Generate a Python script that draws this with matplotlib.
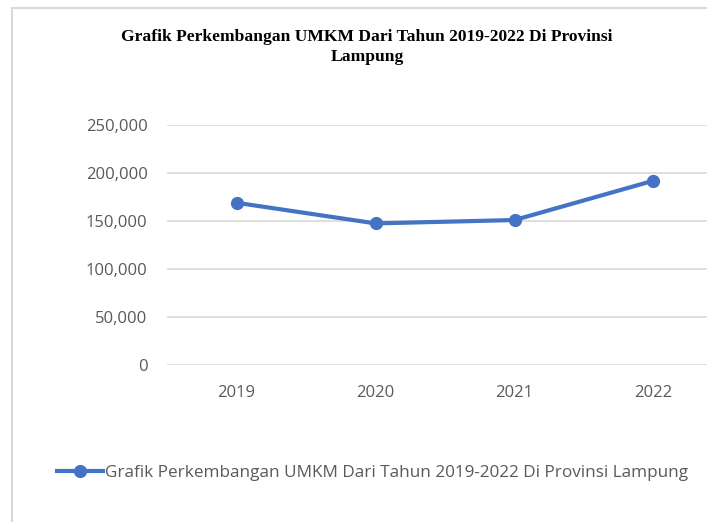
import matplotlib
matplotlib.use("Agg")
import matplotlib.pyplot as plt
from matplotlib.patches import Rectangle
from matplotlib.ticker import FuncFormatter

# data
tahun = ["2019", "2020", "2021", "2022"]
jumlah_umkm = [169000, 147500, 151000, 192000]
y_ticks = [0, 50000, 100000, 150000, 200000, 250000]

judul = "Grafik Perkembangan UMKM Dari Tahun 2019-2022 Di Provinsi\nLampung"
label_seri = "Grafik Perkembangan UMKM Dari Tahun 2019-2022 Di Provinsi Lampung"

biru = "#4472C4"
abu = "#595959"
garis = "#D9D9D9"

fig = plt.figure(figsize=(7.07, 5.22), dpi=100)
W, H = 707, 522

# bingkai chart
fig.patches.append(Rectangle((12 / W, -0.1), 1.0, 1 - 8 / H + 0.1,
                             transform=fig.transFigure, fill=False,
                             edgecolor=garis, linewidth=1.5))

ax = fig.add_axes([167 / W, (H - 365) / H, 556 / W, 240 / H])
x = list(range(len(tahun)))
ln, = ax.plot(x, jumlah_umkm, color=biru, linewidth=3, marker="o",
              markersize=8.5, clip_on=False, zorder=3)

ax.set_xlim(-0.5, 3.5)
ax.set_ylim(0, 250000)
ax.set_yticks(y_ticks)
ax.yaxis.set_major_formatter(FuncFormatter(lambda v, p: f"{int(v):,}"))
ax.set_xticks(x)
ax.set_xticklabels(tahun)
ax.grid(axis="y", color=garis, linewidth=1.2)
ax.set_axisbelow(True)
for s in ax.spines.values():
    s.set_visible(False)
ax.tick_params(length=0, labelcolor=abu, labelsize=12)
ax.tick_params(axis="y", pad=14)
ax.tick_params(axis="x", pad=14.5)
for t in ax.get_xticklabels() + ax.get_yticklabels():
    t.set_fontfamily("Open Sans")

fig.text(367 / W, 1 - 29 / H, judul, ha="center", va="top",
         fontfamily="Liberation Serif", fontweight="bold", fontsize=12.6,
         linespacing=1.35, color="black")

fig.legend([ln], [label_seri], loc="center left",
           bbox_to_anchor=(42 / W, 1 - 473 / H), frameon=False,
           prop={"family": "Open Sans", "size": 12.35}, handlelength=2.65,
           handletextpad=0.1, labelcolor=abu)

fig.savefig("out.png", dpi=100)
